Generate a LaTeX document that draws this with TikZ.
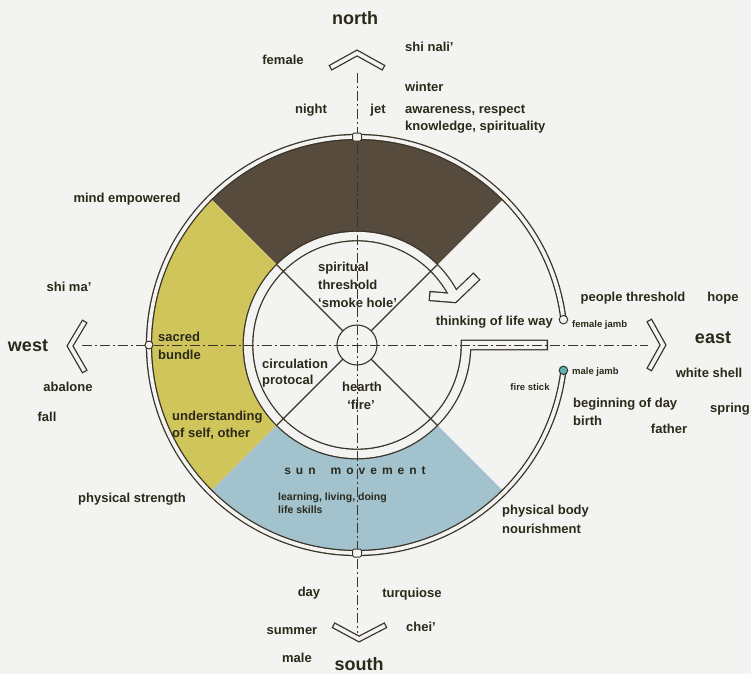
\documentclass[tikz,border=0pt]{standalone}
\usepackage{fontspec}
\setmainfont{Liberation Sans}
\usetikzlibrary{calc}
\definecolor{bg}{HTML}{F3F4F1}
\definecolor{ink}{HTML}{2B2919}
\definecolor{linec}{HTML}{3A3327}
\definecolor{brownc}{HTML}{574B3D}
\definecolor{yellowc}{HTML}{D0C55B}
\definecolor{bluec}{HTML}{A2C2CE}
\definecolor{tealc}{HTML}{5DB3B1}
\newcommand\skx{\kern5pt}
\begin{document}
\begin{tikzpicture}[x=1pt,y=-1pt,
  lbl/.style={font=\bfseries\fontsize{13}{15}\selectfont, text=ink, inner sep=0pt, anchor=mid},
  lblw/.style={lbl, anchor=mid west},
  lble/.style={lbl, anchor=mid east},
  bigtxt/.style={lbl, font=\bfseries\fontsize{18}{20}\selectfont},
  smalltxt/.style={lblw, font=\bfseries\fontsize{9.5}{11}\selectfont},
  tinytxt/.style={lblw, font=\bfseries\fontsize{10.5}{12}\selectfont},
  darkpass/.style={draw=linec, line width=#1},
  lightpass/.style={draw=bg, line width=#1},
  axisline/.style={draw=linec, line width=0.9pt, dash pattern=on 10pt off 3pt on 2pt off 3pt},
  spoke/.style={draw=linec, line width=1.1pt},
  marker/.style={draw=linec, fill=bg, line width=1pt, inner sep=0pt}
]
\useasboundingbox (0,0) rectangle (751,674);
\fill[bg] (0,0) rectangle (751,674);
\coordinate (C) at (357,345);

% coloured sectors
\fill[brownc] ($(C)+(225:207)$) arc[start angle=225,end angle=315,radius=207] -- ($(C)+(315:113)$) arc[start angle=315,end angle=225,radius=113] -- cycle;
\fill[yellowc] ($(C)+(135:207)$) arc[start angle=135,end angle=225,radius=207] -- ($(C)+(225:113)$) arc[start angle=225,end angle=135,radius=113] -- cycle;
\fill[bluec] ($(C)+(45:207)$) arc[start angle=45,end angle=135,radius=207] -- ($(C)+(135:113)$) arc[start angle=135,end angle=45,radius=113] -- cycle;

% outer ring (double line)
\draw[darkpass=6.3pt] ($(C)+(-7:208)$) arc[start angle=-7,end angle=-353,radius=208];
\draw[lightpass=3.7pt] ($(C)+(-7:208)$) arc[start angle=-7,end angle=-353,radius=208];

% inner spiral band with corridor and arrowhead
\coordinate (corr) at (548,345);
\coordinate (tipc) at (454,298);
\coordinate (armL) at (429,296);
\coordinate (armR) at (477,276);
\draw[darkpass=10.8pt] (corr) -- ($(C)+(0:109)$) arc[start angle=0,end angle=331,radius=109] -- (tipc);
\draw[darkpass=10.3pt] (armL) -- (tipc) -- (armR);
\draw[lightpass=8.2pt, shorten <=1.3pt] (corr) -- ($(C)+(0:109)$) arc[start angle=0,end angle=331,radius=109] -- (tipc);
\draw[lightpass=7.7pt, shorten <=1.3pt, shorten >=1.3pt] (armL) -- (tipc) -- (armR);

% spokes and hearth
\foreach \a in {45,135,225,315} {
  \draw[spoke] ($(C)+(\a:20)$) -- ($(C)+(\a:113)$);
}
\draw[spoke] (C) circle[radius=20];

% compass chevrons
\coordinate (nA) at (357,53); \coordinate (nL) at (330,68); \coordinate (nR) at (384,68);
\coordinate (sA) at (359,639); \coordinate (sL) at (333,625); \coordinate (sR) at (386,625);
\coordinate (wA) at (70,346); \coordinate (wT) at (85,321); \coordinate (wB) at (85,372);
\coordinate (eA) at (663,345); \coordinate (eT) at (649,320); \coordinate (eB) at (649,370);
\foreach \p/\q/\r in {nL/nA/nR, sL/sA/sR, wT/wA/wB, eT/eA/eB} {
  \draw[darkpass=6.3pt] (\p) -- (\q) -- (\r);
  \draw[lightpass=3.7pt, shorten <=1.3pt, shorten >=1.3pt] (\p) -- (\q) -- (\r);
}

% axes
\coordinate (axN) at (357,73); \coordinate (axS) at (357,633);
\coordinate (axW) at (82,345); \coordinate (axE) at (648,345);
\draw[axisline] (axN) -- (axS);
\draw[axisline] (axW) -- (axE);

% markers on the ring
\node[marker, rounded corners=1.5pt, minimum width=9pt, minimum height=8pt] (mN) at ($(C)+(-90:208)$) {};
\node[marker, rounded corners=1.5pt, minimum width=9pt, minimum height=8pt] (mS) at ($(C)+(90:208)$) {};
\node[marker, circle, minimum size=8pt] (mW) at ($(C)+(180:208)$) {};
\node[marker, circle, minimum size=8.5pt] (fjamb) at ($(C)+(-7:208)$) {};
\node[marker, circle, minimum size=8.5pt, fill=tealc] (mjamb) at ($(C)+(7:208)$) {};

% north
\node[bigtxt] (tnorth) at (355,22) {north};
\node[lbl] (tfemale) at (283,62) {female};
\node[lblw] (tshinali) at (405,49) {shi nali’};
\node[lblw] (twinter) at (405,88.5) {winter};
\node[lbl] (tnight) at (311,111) {night};
\node[lbl] (tjet) at (378,111) {jet};
\node[lblw] (taware) at (405,111) {awareness, respect};
\node[lblw] (tknow) at (405,128) {knowledge, spirituality};
% west
\node[lbl] (tmind) at (127,200) {mind empowered};
\node[lbl] (tshima) at (69,289) {shi ma’};
\node[bigtxt] (twest) at (28,349) {west};
\node[lbl] (tabalone) at (68,389) {abalone};
\node[lbl] (tfall) at (47,419) {fall};
\node[lblw] (tsacred) at (158,339) {sacred};
\node[lblw] (tbundle) at (158,357) {bundle};
\node[lblw] (tunder) at (172,418) {understanding};
\node[lblw] (tofself) at (172,435) {of self, other};
\node[lbl] (tphys) at (132,500) {physical strength};
% centre
\node[lblw] (tspirit) at (318,269) {spiritual};
\node[lblw] (tthresh) at (318,287) {threshold};
\node[lblw] (tsmoke) at (318,305) {‘smoke hole’};
\node[lblw] (tcirc) at (262,366) {circulation};
\node[lblw] (tproto) at (262,382) {protocal};
\node[lbl] (thearth) at (362,389) {hearth};
\node[lbl] (tfire) at (361,407) {‘fire’};
\node[lble] (tthink) at (553,323) {thinking of life way};
% east
\node[lbl] (tpeople) at (633,299) {people threshold};
\node[lbl] (thope) at (723,299) {hope};
\node[smalltxt] (tfjamb) at (572,325) {female jamb};
\node[bigtxt] (teast) at (713,341) {east};
\node[smalltxt] (tmjamb) at (572,372) {male jamb};
\node[lbl] (twhite) at (709,375) {white shell};
\node[smalltxt, anchor=mid] (tfstick) at (530,388) {fire stick};
\node[lblw] (tbegin) at (573,405) {beginning of day};
\node[lblw] (tbirth) at (573,423) {birth};
\node[lbl] (tfather) at (669,431) {father};
\node[lbl] (tspring) at (730,410) {spring};
% south
\node[lbl, font=\bfseries\fontsize{12}{14}\selectfont] (tsun) at (355,472) {s\skx u\skx n\kern15pt m\skx o\skx v\skx e\skx m\skx e\skx n\skx t};
\node[tinytxt] (tlearn) at (278,498) {learning, living, doing};
\node[tinytxt] (tlife) at (278,511) {life skills};
\node[lblw] (tbody) at (502,512) {physical body};
\node[lblw] (tnour) at (502,531) {nourishment};
\node[lbl] (tday) at (309,594) {day};
\node[lbl] (tturq) at (412,595) {turquiose};
\node[lbl] (tsummer) at (292,632) {summer};
\node[lbl] (tchei) at (421,629) {chei’};
\node[lbl] (tmale) at (297,660) {male};
\node[bigtxt] (tsouth) at (359,668) {south};
\end{tikzpicture}
\end{document}
